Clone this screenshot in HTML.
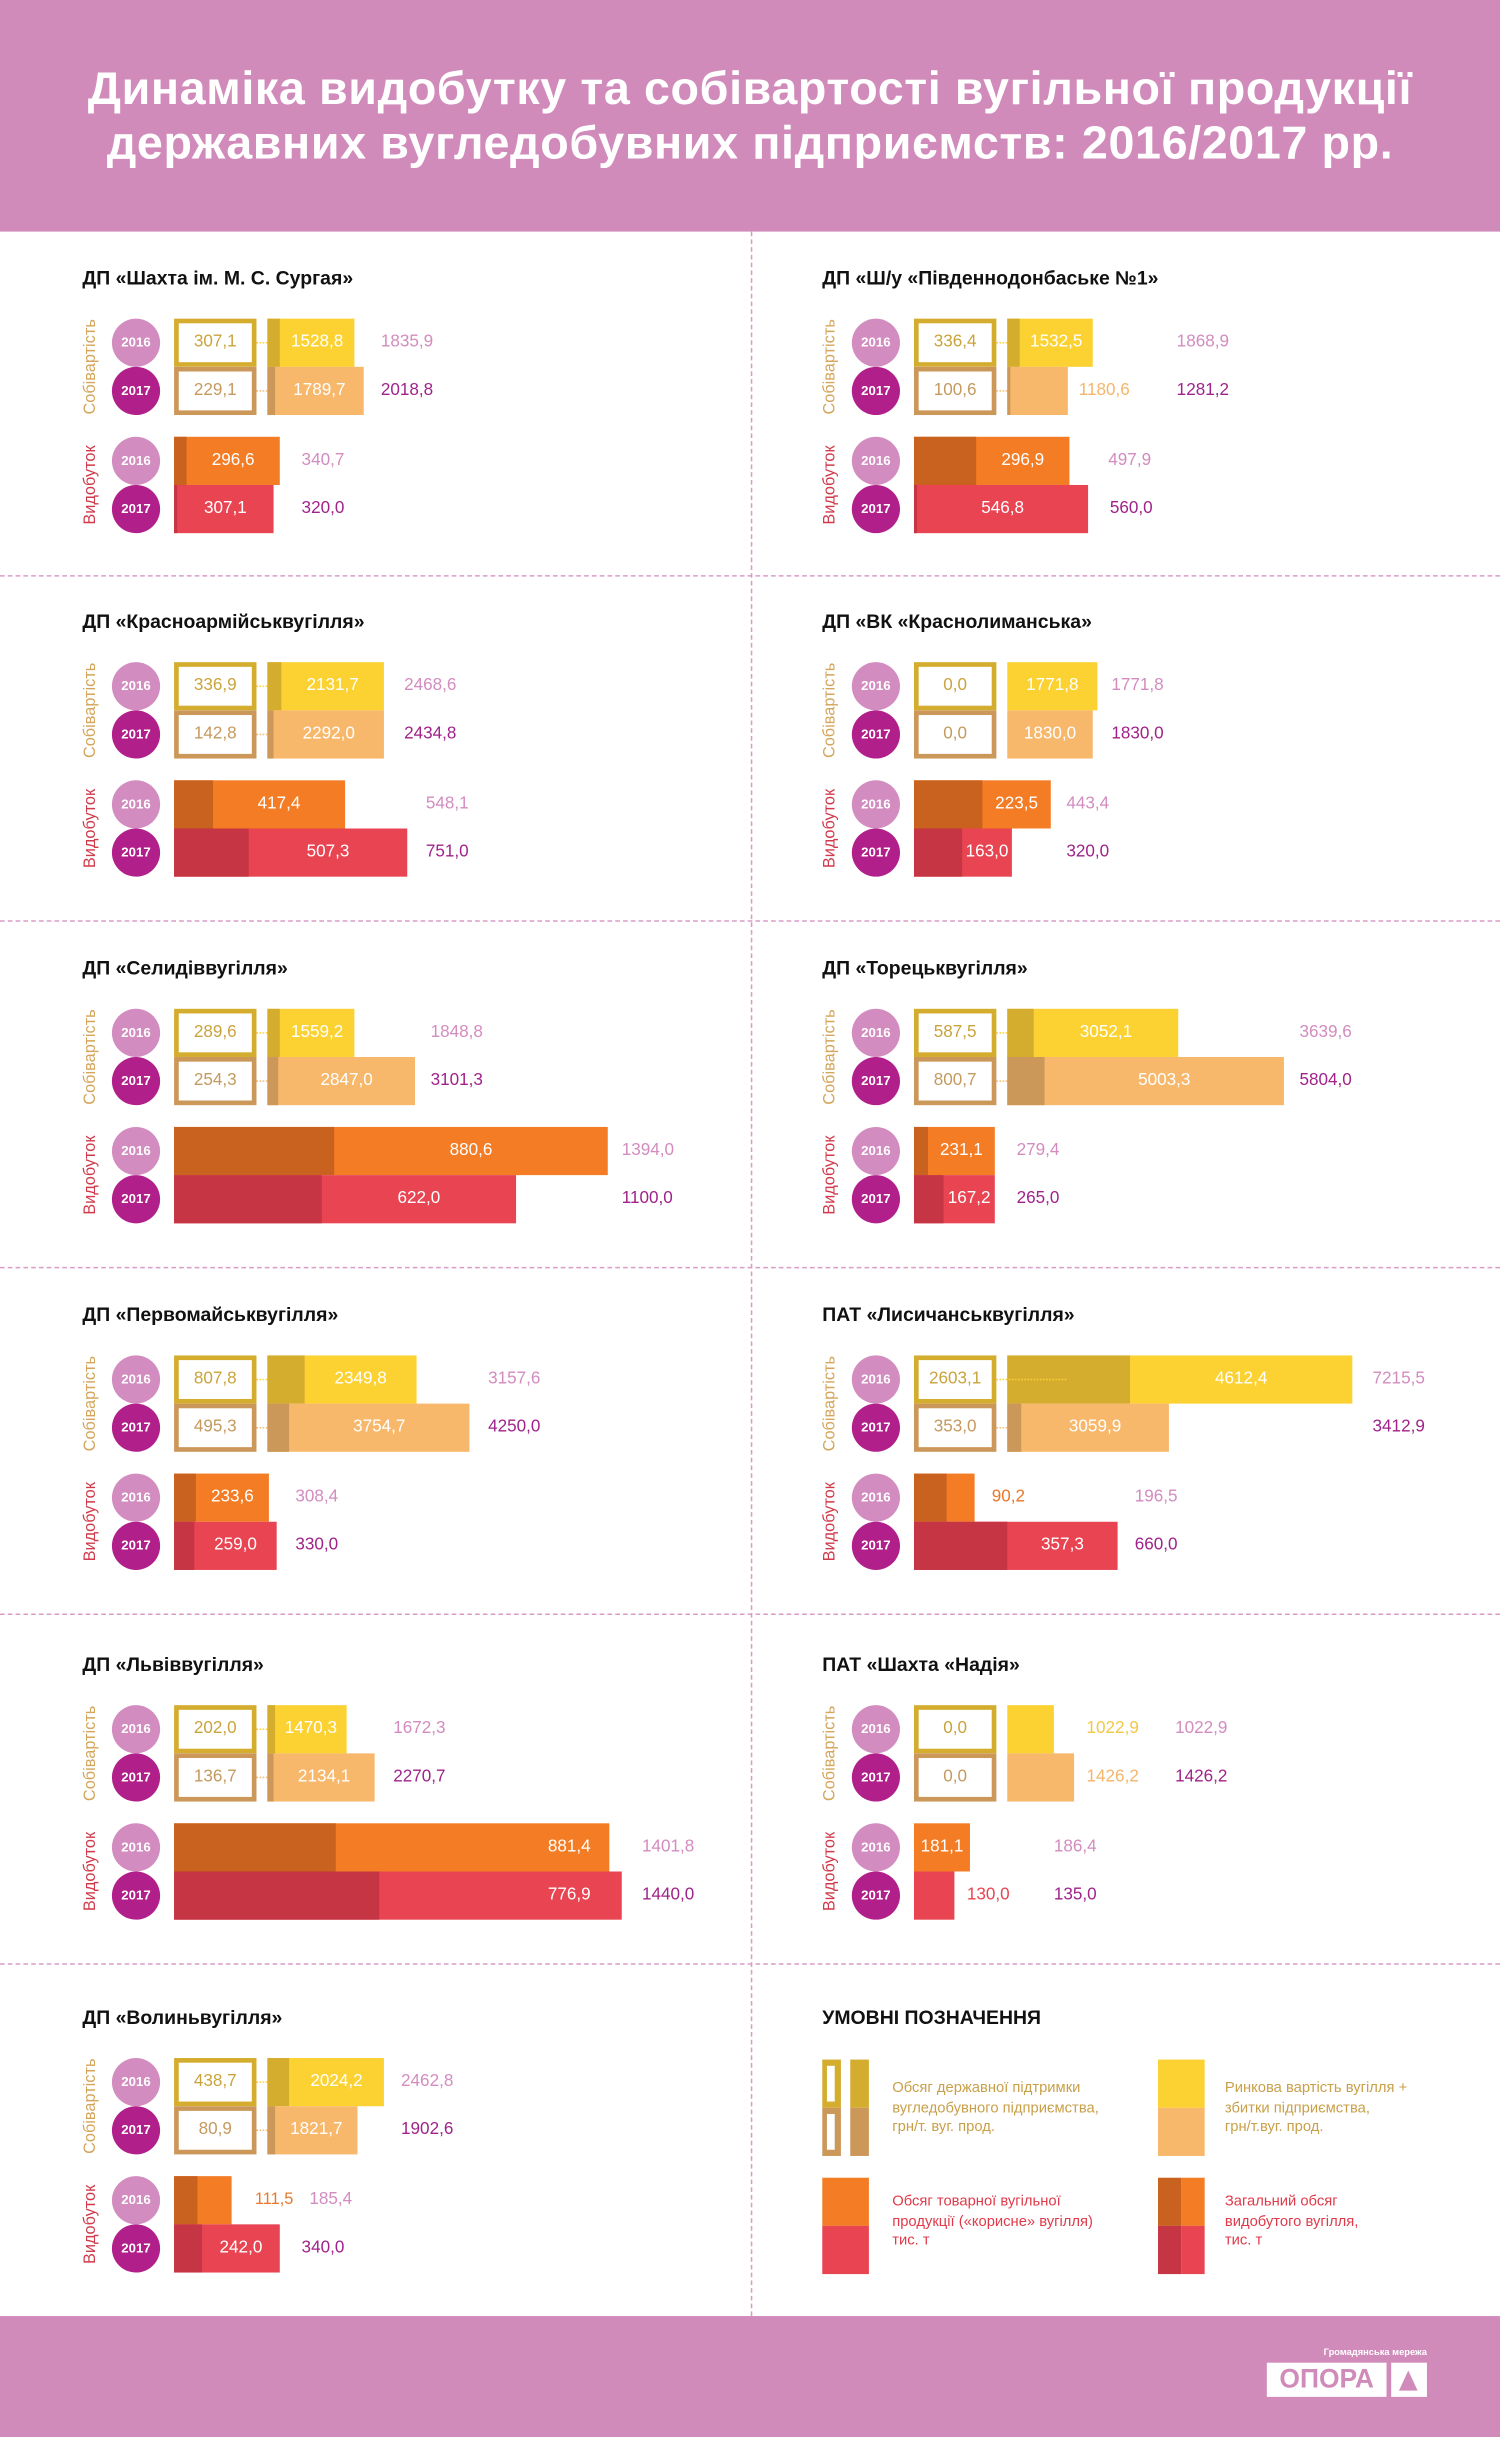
<!DOCTYPE html>
<html><head><meta charset="utf-8"><style>
*{margin:0;padding:0;box-sizing:border-box}
body{width:1500px;height:2437px;overflow:hidden;background:#fff;font-family:"Liberation Sans","DejaVu Sans",sans-serif}
#w{position:absolute;left:0;top:0;width:965px;height:1568px;transform:scale(1.5544);transform-origin:0 0}
.hd{position:absolute;left:0;top:0;width:965px;height:149px;background:#d18bbb;color:#fff;font-weight:bold;font-size:30px;text-align:center;line-height:35px;padding-top:40px;letter-spacing:0.4px}
.ft{position:absolute;left:0;top:1490px;width:965px;height:78px;background:#d18bbb}
.hl{position:absolute;left:0;width:965px;border-top:1px dashed #d99cc8}
.vl{position:absolute;left:483px;top:149px;height:1341px;border-left:1px dashed #d99cc8}
.P{position:absolute;width:480px;height:220px}
.ti{position:absolute;left:53px;top:171px;font-weight:bold;font-size:12.5px;line-height:16px;color:#111;white-space:nowrap}
.rl{position:absolute;width:80px;text-align:center;font-size:10.5px;line-height:12px;transform:rotate(-90deg);left:18px}
.c{position:absolute;left:72px;width:31px;height:31px;border-radius:50%;color:#fff;font-weight:bold;font-size:8.5px;line-height:31px;text-align:center}
.c6{background:#d38cbf}.c7{background:#b11f8a}
.bx{position:absolute;left:112px;width:53px;height:31px;border:3.2px solid;font-size:11px;line-height:24.6px;text-align:center;background:#fff}
.x6{border-color:#d4ad2f;color:#c9a43c}.x7{border-color:#cc985a;color:#c49a5e}
.b,.p{position:absolute;height:31px;display:flex}
.b{left:172px}.p{left:112px}
.b i,.p i{display:block;height:31px;flex:none}
.b span,.p span{flex:1;text-align:center;color:#fff;font-size:11px;line-height:31px;white-space:nowrap}
.y6{background:#fcd232}.y6 i{background:#d4ad2f}
.y7{background:#f8b86c}.y7 i{background:#cc985a}
.o6{background:#f37c25}.o6 i{background:#c9611f}
.r7{background:#e94452}.r7 i{background:#c53543}
.t{position:absolute;font-size:11px;line-height:31px;white-space:nowrap}
.t6{color:#d38cbf}.t7{color:#a0228a}
.dt{position:absolute;left:165px;width:7px;border-top:1.5px dotted #fcd232}
.lg{position:absolute;font-size:9.5px;line-height:12.5px}
</style></head><body><div id="w">
<div class="hd">Динаміка видобутку та собівартості вугільної продукції<br>державних вугледобувних підприємств: 2016/2017 рр.</div>
<div class="hl" style="top:370px"></div><div class="hl" style="top:592px"></div><div class="hl" style="top:815px"></div><div class="hl" style="top:1038px"></div><div class="hl" style="top:1263px"></div>
<div class="vl"></div>

<!-- P1 -->
<div class="P" style="left:0;top:0">
<div class="ti">ДП «Шахта ім. М. С. Сургая»</div>
<div class="rl" style="top:230px;color:#d4a55a">Собівартість</div><div class="rl" style="top:306px;color:#d03a4a">Видобуток</div>
<div class="c c6" style="top:205px">2016</div><div class="c c7" style="top:236px">2017</div><div class="c c6" style="top:281px">2016</div><div class="c c7" style="top:312px">2017</div>
<div class="bx x6" style="top:205px">307,1</div><div class="bx x7" style="top:236px">229,1</div>
<div class="dt" style="top:220px"></div><div class="dt" style="top:251px;border-color:#f8b86c"></div>
<div class="b y6" style="top:205px;width:56px"><i style="width:8px"></i><span>1528,8</span></div>
<div class="b y7" style="top:236px;width:62px"><i style="width:5px"></i><span>1789,7</span></div>
<div class="t t6" style="top:205px;left:245px">1835,9</div><div class="t t7" style="top:236px;left:245px">2018,8</div>
<div class="p o6" style="top:281px;width:68px"><i style="width:8px"></i><span>296,6</span></div>
<div class="p r7" style="top:312px;width:64px"><i style="width:2px"></i><span>307,1</span></div>
<div class="t t6" style="top:281px;left:194px">340,7</div><div class="t t7" style="top:312px;left:194px">320,0</div>
</div>

<!-- P2 -->
<div class="P" style="left:476px;top:0">
<div class="ti">ДП «Ш/у «Південнодонбаське №1»</div>
<div class="rl" style="top:230px;color:#d4a55a">Собівартість</div><div class="rl" style="top:306px;color:#d03a4a">Видобуток</div>
<div class="c c6" style="top:205px">2016</div><div class="c c7" style="top:236px">2017</div><div class="c c6" style="top:281px">2016</div><div class="c c7" style="top:312px">2017</div>
<div class="bx x6" style="top:205px">336,4</div><div class="bx x7" style="top:236px">100,6</div>
<div class="dt" style="top:220px"></div><div class="dt" style="top:251px;border-color:#f8b86c"></div>
<div class="b y6" style="top:205px;width:55px"><i style="width:8px"></i><span>1532,5</span></div>
<div class="b y7" style="top:236px;width:39px"><i style="width:2px"></i><span></span></div>
<div class="t" style="top:236px;left:218px;color:#f5b56a">1180,6</div>
<div class="t t6" style="top:205px;left:281px">1868,9</div><div class="t t7" style="top:236px;left:281px">1281,2</div>
<div class="p o6" style="top:281px;width:100px"><i style="width:40px"></i><span>296,9</span></div>
<div class="p r7" style="top:312px;width:112px"><i style="width:2px"></i><span>546,8</span></div>
<div class="t t6" style="top:281px;left:237px">497,9</div><div class="t t7" style="top:312px;left:238px">560,0</div>
</div>

<!-- P3 -->
<div class="P" style="left:0;top:221px">
<div class="ti">ДП «Красноармійськвугілля»</div>
<div class="rl" style="top:230px;color:#d4a55a">Собівартість</div><div class="rl" style="top:306px;color:#d03a4a">Видобуток</div>
<div class="c c6" style="top:205px">2016</div><div class="c c7" style="top:236px">2017</div><div class="c c6" style="top:281px">2016</div><div class="c c7" style="top:312px">2017</div>
<div class="bx x6" style="top:205px">336,9</div><div class="bx x7" style="top:236px">142,8</div>
<div class="dt" style="top:220px"></div><div class="dt" style="top:251px;border-color:#f8b86c"></div>
<div class="b y6" style="top:205px;width:75px"><i style="width:9px"></i><span>2131,7</span></div>
<div class="b y7" style="top:236px;width:75px"><i style="width:4px"></i><span>2292,0</span></div>
<div class="t t6" style="top:205px;left:260px">2468,6</div><div class="t t7" style="top:236px;left:260px">2434,8</div>
<div class="p o6" style="top:281px;width:110px"><i style="width:25px"></i><span>417,4</span></div>
<div class="p r7" style="top:312px;width:150px"><i style="width:48px"></i><span>507,3</span></div>
<div class="t t6" style="top:281px;left:274px">548,1</div><div class="t t7" style="top:312px;left:274px">751,0</div>
</div>

<!-- P4 -->
<div class="P" style="left:476px;top:221px">
<div class="ti">ДП «ВК «Краснолиманська»</div>
<div class="rl" style="top:230px;color:#d4a55a">Собівартість</div><div class="rl" style="top:306px;color:#d03a4a">Видобуток</div>
<div class="c c6" style="top:205px">2016</div><div class="c c7" style="top:236px">2017</div><div class="c c6" style="top:281px">2016</div><div class="c c7" style="top:312px">2017</div>
<div class="bx x6" style="top:205px">0,0</div><div class="bx x7" style="top:236px">0,0</div>
<div class="b y6" style="top:205px;width:58px"><i style="width:0"></i><span>1771,8</span></div>
<div class="b y7" style="top:236px;width:55px"><i style="width:0"></i><span>1830,0</span></div>
<div class="t t6" style="top:205px;left:239px">1771,8</div><div class="t t7" style="top:236px;left:239px">1830,0</div>
<div class="p o6" style="top:281px;width:88px"><i style="width:44px"></i><span>223,5</span></div>
<div class="p r7" style="top:312px;width:63px"><i style="width:31px"></i><span>163,0</span></div>
<div class="t t6" style="top:281px;left:210px">443,4</div><div class="t t7" style="top:312px;left:210px">320,0</div>
</div>

<!-- P5 -->
<div class="P" style="left:0;top:444px">
<div class="ti">ДП «Селидіввугілля»</div>
<div class="rl" style="top:230px;color:#d4a55a">Собівартість</div><div class="rl" style="top:306px;color:#d03a4a">Видобуток</div>
<div class="c c6" style="top:205px">2016</div><div class="c c7" style="top:236px">2017</div><div class="c c6" style="top:281px">2016</div><div class="c c7" style="top:312px">2017</div>
<div class="bx x6" style="top:205px">289,6</div><div class="bx x7" style="top:236px">254,3</div>
<div class="dt" style="top:220px"></div><div class="dt" style="top:251px;border-color:#f8b86c"></div>
<div class="b y6" style="top:205px;width:56px"><i style="width:8px"></i><span>1559,2</span></div>
<div class="b y7" style="top:236px;width:95px"><i style="width:7px"></i><span>2847,0</span></div>
<div class="t t6" style="top:205px;left:277px">1848,8</div><div class="t t7" style="top:236px;left:277px">3101,3</div>
<div class="p o6" style="top:281px;width:279px"><i style="width:103px"></i><span>880,6</span></div>
<div class="p r7" style="top:312px;width:220px"><i style="width:95px"></i><span>622,0</span></div>
<div class="t t6" style="top:281px;left:400px">1394,0</div><div class="t t7" style="top:312px;left:400px">1100,0</div>
</div>

<!-- P6 -->
<div class="P" style="left:476px;top:444px">
<div class="ti">ДП «Торецьквугілля»</div>
<div class="rl" style="top:230px;color:#d4a55a">Собівартість</div><div class="rl" style="top:306px;color:#d03a4a">Видобуток</div>
<div class="c c6" style="top:205px">2016</div><div class="c c7" style="top:236px">2017</div><div class="c c6" style="top:281px">2016</div><div class="c c7" style="top:312px">2017</div>
<div class="bx x6" style="top:205px">587,5</div><div class="bx x7" style="top:236px">800,7</div>
<div class="dt" style="top:220px"></div><div class="dt" style="top:251px;border-color:#f8b86c"></div>
<div class="b y6" style="top:205px;width:110px"><i style="width:17px"></i><span>3052,1</span></div>
<div class="b y7" style="top:236px;width:178px"><i style="width:24px"></i><span>5003,3</span></div>
<div class="t t6" style="top:205px;left:360px">3639,6</div><div class="t t7" style="top:236px;left:360px">5804,0</div>
<div class="p o6" style="top:281px;width:52px"><i style="width:9px"></i><span>231,1</span></div>
<div class="p r7" style="top:312px;width:52px"><i style="width:19px"></i><span>167,2</span></div>
<div class="t t6" style="top:281px;left:178px">279,4</div><div class="t t7" style="top:312px;left:178px">265,0</div>
</div>

<!-- P7 -->
<div class="P" style="left:0;top:667px">
<div class="ti">ДП «Первомайськвугілля»</div>
<div class="rl" style="top:230px;color:#d4a55a">Собівартість</div><div class="rl" style="top:306px;color:#d03a4a">Видобуток</div>
<div class="c c6" style="top:205px">2016</div><div class="c c7" style="top:236px">2017</div><div class="c c6" style="top:281px">2016</div><div class="c c7" style="top:312px">2017</div>
<div class="bx x6" style="top:205px">807,8</div><div class="bx x7" style="top:236px">495,3</div>
<div class="dt" style="top:220px"></div><div class="dt" style="top:251px;border-color:#f8b86c"></div>
<div class="b y6" style="top:205px;width:96px"><i style="width:24px"></i><span>2349,8</span></div>
<div class="b y7" style="top:236px;width:130px"><i style="width:14px"></i><span>3754,7</span></div>
<div class="t t6" style="top:205px;left:314px">3157,6</div><div class="t t7" style="top:236px;left:314px">4250,0</div>
<div class="p o6" style="top:281px;width:61px"><i style="width:14px"></i><span>233,6</span></div>
<div class="p r7" style="top:312px;width:66px"><i style="width:13px"></i><span>259,0</span></div>
<div class="t t6" style="top:281px;left:190px">308,4</div><div class="t t7" style="top:312px;left:190px">330,0</div>
</div>

<!-- P8 -->
<div class="P" style="left:476px;top:667px">
<div class="ti">ПАТ «Лисичанськвугілля»</div>
<div class="rl" style="top:230px;color:#d4a55a">Собівартість</div><div class="rl" style="top:306px;color:#d03a4a">Видобуток</div>
<div class="c c6" style="top:205px">2016</div><div class="c c7" style="top:236px">2017</div><div class="c c6" style="top:281px">2016</div><div class="c c7" style="top:312px">2017</div>
<div class="bx x6" style="top:205px">2603,1</div><div class="bx x7" style="top:236px">353,0</div>
<div class="b y6" style="top:205px;width:222px"><i style="width:79px"></i><span>4612,4</span></div>
<div class="dt" style="top:220px;width:45px"></div><div class="dt" style="top:251px;border-color:#f8b86c"></div>
<div class="b y7" style="top:236px;width:104px"><i style="width:9px"></i><span>3059,9</span></div>
<div class="t t6" style="top:205px;left:407px">7215,5</div><div class="t t7" style="top:236px;left:407px">3412,9</div>
<div class="p o6" style="top:281px;width:39px"><i style="width:21px"></i><span></span></div>
<div class="t" style="top:281px;left:162px;color:#e8782a">90,2</div>
<div class="p r7" style="top:312px;width:131px"><i style="width:60px"></i><span>357,3</span></div>
<div class="t t6" style="top:281px;left:254px">196,5</div><div class="t t7" style="top:312px;left:254px">660,0</div>
</div>

<!-- P9 -->
<div class="P" style="left:0;top:892px">
<div class="ti">ДП «Львіввугілля»</div>
<div class="rl" style="top:230px;color:#d4a55a">Собівартість</div><div class="rl" style="top:306px;color:#d03a4a">Видобуток</div>
<div class="c c6" style="top:205px">2016</div><div class="c c7" style="top:236px">2017</div><div class="c c6" style="top:281px">2016</div><div class="c c7" style="top:312px">2017</div>
<div class="bx x6" style="top:205px">202,0</div><div class="bx x7" style="top:236px">136,7</div>
<div class="dt" style="top:220px"></div><div class="dt" style="top:251px;border-color:#f8b86c"></div>
<div class="b y6" style="top:205px;width:51px"><i style="width:5px"></i><span>1470,3</span></div>
<div class="b y7" style="top:236px;width:69px"><i style="width:4px"></i><span>2134,1</span></div>
<div class="t t6" style="top:205px;left:253px">1672,3</div><div class="t t7" style="top:236px;left:253px">2270,7</div>
<div class="p o6" style="top:281px;width:280px"><i style="width:104px"></i><span style="text-align:right;padding-right:12px">881,4</span></div>
<div class="p r7" style="top:312px;width:288px"><i style="width:132px"></i><span style="text-align:right;padding-right:20px">776,9</span></div>
<div class="t t6" style="top:281px;left:413px">1401,8</div><div class="t t7" style="top:312px;left:413px">1440,0</div>
</div>

<!-- P10 -->
<div class="P" style="left:476px;top:892px">
<div class="ti">ПАТ «Шахта «Надія»</div>
<div class="rl" style="top:230px;color:#d4a55a">Собівартість</div><div class="rl" style="top:306px;color:#d03a4a">Видобуток</div>
<div class="c c6" style="top:205px">2016</div><div class="c c7" style="top:236px">2017</div><div class="c c6" style="top:281px">2016</div><div class="c c7" style="top:312px">2017</div>
<div class="bx x6" style="top:205px">0,0</div><div class="bx x7" style="top:236px">0,0</div>
<div class="b y6" style="top:205px;width:30px"><i style="width:0"></i><span></span></div>
<div class="b y7" style="top:236px;width:43px"><i style="width:0"></i><span></span></div>
<div class="t" style="top:205px;left:223px;color:#f3c746">1022,9</div><div class="t" style="top:236px;left:223px;color:#f5b56a">1426,2</div>
<div class="t t6" style="top:205px;left:280px">1022,9</div><div class="t t7" style="top:236px;left:280px">1426,2</div>
<div class="p o6" style="top:281px;width:36px"><i style="width:0"></i><span>181,1</span></div>
<div class="p r7" style="top:312px;width:26px"><i style="width:0"></i><span></span></div>
<div class="t" style="top:312px;left:146px;color:#e94452">130,0</div>
<div class="t t6" style="top:281px;left:202px">186,4</div><div class="t t7" style="top:312px;left:202px">135,0</div>
</div>

<!-- P11 -->
<div class="P" style="left:0;top:1119px">
<div class="ti">ДП «Волиньвугілля»</div>
<div class="rl" style="top:230px;color:#d4a55a">Собівартість</div><div class="rl" style="top:306px;color:#d03a4a">Видобуток</div>
<div class="c c6" style="top:205px">2016</div><div class="c c7" style="top:236px">2017</div><div class="c c6" style="top:281px">2016</div><div class="c c7" style="top:312px">2017</div>
<div class="bx x6" style="top:205px">438,7</div><div class="bx x7" style="top:236px">80,9</div>
<div class="dt" style="top:220px"></div><div class="dt" style="top:251px;border-color:#f8b86c"></div>
<div class="b y6" style="top:205px;width:75px"><i style="width:14px"></i><span>2024,2</span></div>
<div class="b y7" style="top:236px;width:58px"><i style="width:5px"></i><span>1821,7</span></div>
<div class="t t6" style="top:205px;left:258px">2462,8</div><div class="t t7" style="top:236px;left:258px">1902,6</div>
<div class="p o6" style="top:281px;width:37px"><i style="width:15px"></i><span></span></div>
<div class="t" style="top:281px;left:164px;color:#e8782a;font-size:10.5px">111,5</div>
<div class="p r7" style="top:312px;width:68px"><i style="width:18px"></i><span>242,0</span></div>
<div class="t t6" style="top:281px;left:199px">185,4</div><div class="t t7" style="top:312px;left:194px">340,0</div>
</div>

<!-- Legend -->
<div class="ti" style="left:529px;top:1290px">УМОВНІ ПОЗНАЧЕННЯ</div>
<div style="position:absolute;left:529px;top:1325px;width:12px;height:31px;background:#d4ad2f"><div style="position:absolute;left:3px;top:4px;width:5px;height:23px;background:#fff"></div></div>
<div style="position:absolute;left:529px;top:1356px;width:12px;height:31px;background:#cc985a"><div style="position:absolute;left:3px;top:4px;width:5px;height:23px;background:#fff"></div></div>
<div style="position:absolute;left:547px;top:1325px;width:12px;height:31px;background:#d4ad2f"></div>
<div style="position:absolute;left:547px;top:1356px;width:12px;height:31px;background:#cc985a"></div>
<div class="lg" style="left:574px;top:1338px;color:#c9a04a">Обсяг державної підтримки<br>вугледобувного підприємства,<br>грн/т. вуг. прод.</div>
<div style="position:absolute;left:745px;top:1325px;width:30px;height:31px;background:#fcd232"></div>
<div style="position:absolute;left:745px;top:1356px;width:30px;height:31px;background:#f8b86c"></div>
<div class="lg" style="left:788px;top:1338px;color:#c9a04a">Ринкова вартість вугілля +<br>збитки підприємства,<br>грн/т.вуг. прод.</div>
<div style="position:absolute;left:529px;top:1401px;width:30px;height:31px;background:#f37c25"></div>
<div style="position:absolute;left:529px;top:1432px;width:30px;height:31px;background:#e94452"></div>
<div class="lg" style="left:574px;top:1411px;color:#e03a4a">Обсяг товарної вугільної<br>продукції («корисне» вугілля)<br>тис. т</div>
<div style="position:absolute;left:745px;top:1401px;width:15px;height:31px;background:#c9611f"></div>
<div style="position:absolute;left:760px;top:1401px;width:15px;height:31px;background:#f37c25"></div>
<div style="position:absolute;left:745px;top:1432px;width:15px;height:31px;background:#c53543"></div>
<div style="position:absolute;left:760px;top:1432px;width:15px;height:31px;background:#e94452"></div>
<div class="lg" style="left:788px;top:1411px;color:#e03a4a">Загальний обсяг<br>видобутого вугілля,<br>тис. т</div>

<div class="ft"></div>
<div style="position:absolute;left:815px;top:1510px;width:103px;text-align:right;color:#fff;font-weight:bold;font-size:6px;line-height:8px">Громадянська мережа</div>
<div style="position:absolute;left:815px;top:1520px;width:77px;height:22px;background:#fff;color:#d18bbb;font-weight:bold;font-size:17px;line-height:22px;text-align:center">ОПОРА</div>
<div style="position:absolute;left:895px;top:1520px;width:23px;height:22px;background:#fff"><div style="position:absolute;left:5px;top:5px;width:0;height:0;border-left:6.5px solid transparent;border-right:6.5px solid transparent;border-bottom:13px solid #d18bbb"></div></div>
</div></body></html>
